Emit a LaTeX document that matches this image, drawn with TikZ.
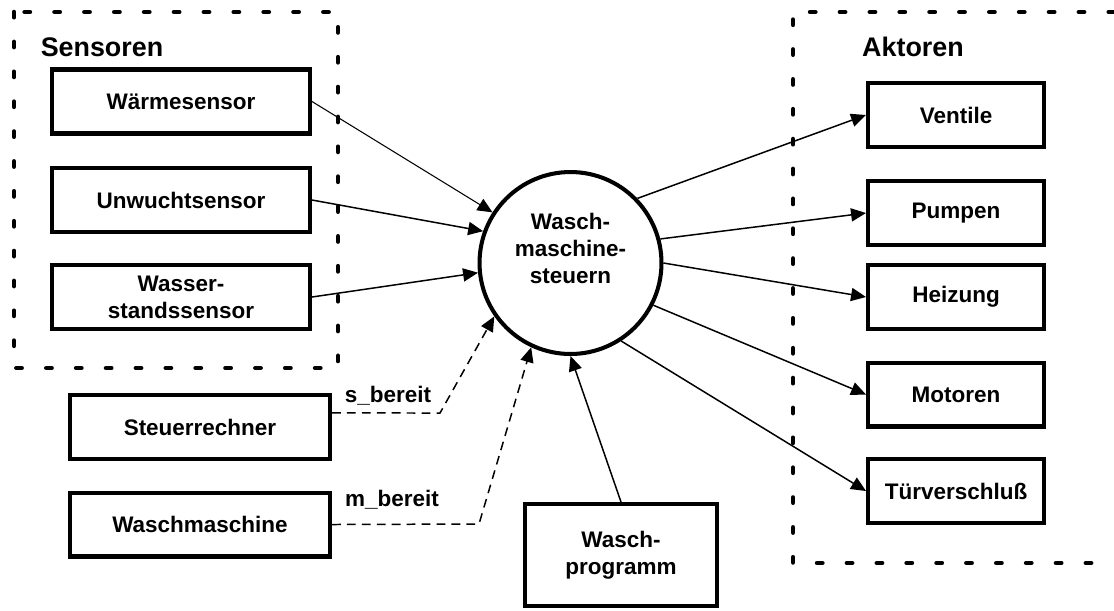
\documentclass[tikz,border=0pt]{standalone}
\usepackage{fontspec}
\setmainfont{Liberation Sans}
\usetikzlibrary{arrows.meta}

\begin{document}
\begin{tikzpicture}[x=0.02cm,y=-0.02cm,
  font=\fontsize{12.8}{15.3}\selectfont\bfseries,
  box/.style={draw,line width=2.3pt,align=center,minimum height=1.28cm},
  sbox/.style={box,minimum width=5.16cm},
  abox/.style={box,minimum width=3.52cm},
  pfeil/.style={-{Triangle[length=8.5pt,width=7.5pt]},line width=0.85pt},
  signal/.style={pfeil,dash pattern=on 5pt off 3.5pt},
  grenze/.style={line width=2.6pt,line cap=round,dash pattern=on 3pt off 14pt},
  titel/.style={font=\fontsize{15.3}{18}\selectfont\bfseries}]
  \useasboundingbox (0,0) rectangle (1114,610);
  \draw[grenze] (14,12) rectangle (338,368);
  \draw[grenze] (1114,12) -- (793,12) -- (793,563) -- (1114,563);
  \node[titel] (sensoren) at (102,47) {Sensoren};
  \node[titel] (aktoren) at (913,47) {Aktoren};
  % Sensoren
  \node[sbox] (waerme) at (181,101.5) {Wärmesensor};
  \node[sbox] (unwucht) at (181,200) {Unwuchtsensor};
  \node[sbox] (wasser) at (181,297) {Wasser-\\standssensor};
  \node[sbox,minimum width=5.2cm] (rechner) at (200,427) {Steuerrechner};
  \node[sbox,minimum width=5.2cm] (maschine) at (200,524.5) {Waschmaschine};
  \node[box,minimum width=3.84cm,minimum height=2.04cm] (programm) at (621,555) {Wasch-\\programm};
  % Steuerung
  \node[circle,draw,line width=2.3pt,minimum size=3.64cm,
    label={[yshift=8.5pt,align=center]center:Wasch-\\maschine-\\steuern}] (steuerung) at (570.5,263) {};
  % Aktoren
  \node[abox] (ventile) at (956,115) {Ventile};
  \node[abox] (pumpen) at (956,213) {Pumpen};
  \node[abox] (heizung) at (956,297) {Heizung};
  \node[abox] (motoren) at (956,394.5) {Motoren};
  \node[abox] (tuer) at (956,491) {Türverschluß};
  % Eingaenge
  \draw[pfeil,line width=0.6pt] (waerme.east) -- (steuerung.147);
  \draw[pfeil] (unwucht.east) -- (steuerung.160);
  \draw[pfeil] (wasser.east) -- (steuerung.186);
  \coordinate (sknick) at (440,413);
  \coordinate (mknick) at (479,524);
  \draw[signal] ([yshift=8pt]rechner.east) -- (sknick) -- (steuerung.215);
  \draw[signal] (maschine.east) -- (mknick) -- (steuerung.245);
  \node (sbereit) at (388,396) {s\_bereit};
  \node (mbereit) at (392,500) {m\_bereit};
  \draw[pfeil] (programm.north) -- (steuerung.270);
  % Ausgaenge
  \draw[pfeil] (steuerung.44) -- (ventile.west);
  \draw[pfeil] (steuerung.15) -- (pumpen.west);
  \draw[pfeil] (steuerung.0) -- (heizung.west);
  \draw[pfeil] (steuerung.-27) -- (motoren.west);
  \draw[pfeil] (steuerung.-57) -- (tuer.west);
\end{tikzpicture}
\end{document}
